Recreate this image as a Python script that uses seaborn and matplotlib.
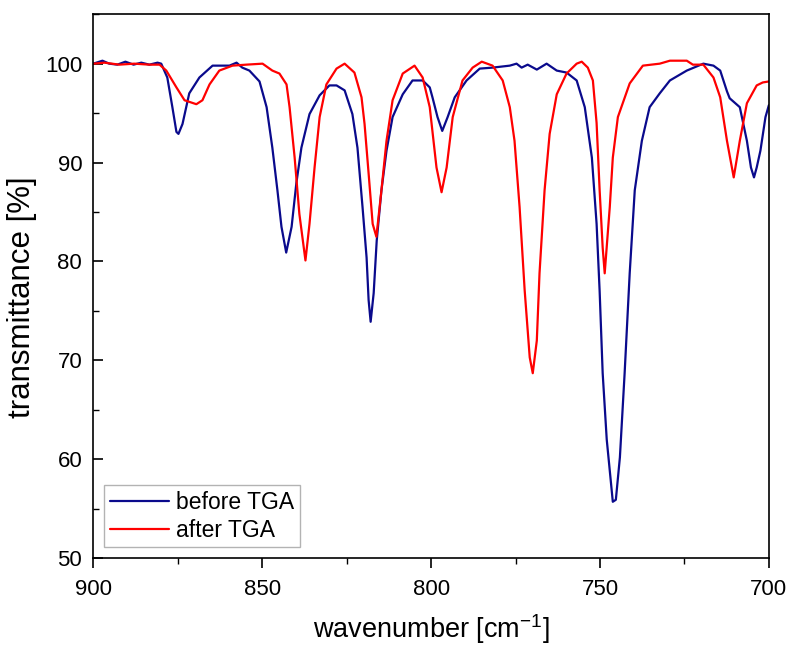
import matplotlib
matplotlib.use("Agg")
import matplotlib.pyplot as plt
from matplotlib.ticker import MultipleLocator
import numpy as np
import pandas as pd
import seaborn as sns

# before TGA
before_wn = [900.0, 898.2, 897.3, 895.3, 892.9, 890.5, 888.1, 885.8, 883.4, 881.0,
             879.9, 878.1, 876.6, 875.4, 874.8, 873.6, 871.6, 868.6, 864.7, 859.7,
             857.6, 855.9, 853.8, 850.8, 848.7, 847.0, 845.5, 844.3, 842.9, 841.3,
             839.9, 838.4, 836.0, 833.0, 830.1, 828.0, 825.6, 823.3, 821.8, 820.3,
             819.1, 818.5, 817.9, 817.0, 816.1, 814.7, 813.2, 811.4, 808.4, 805.5,
             802.5, 800.4, 799.6, 798.1, 796.7, 795.1, 793.0, 789.5, 785.6, 781.8,
             776.7, 774.7, 773.2, 771.4, 768.7, 765.8, 762.8, 759.9, 756.9, 754.5,
             752.4, 751.0, 750.1, 749.2, 748.0, 746.2, 745.3, 744.1, 742.7, 741.2,
             739.7, 737.6, 735.3, 732.3, 729.3, 724.3, 719.4, 716.4, 714.4, 712.4,
             711.6, 708.6, 706.5, 705.3, 704.4, 703.6, 702.5, 701.0, 700.0]
before_t = [100.0, 100.2, 100.3, 100.0, 99.9, 100.2, 99.9, 100.1, 99.9, 100.1,
            100.0, 98.6, 95.6, 93.1, 92.9, 93.9, 97.0, 98.6, 99.8, 99.8,
            100.1, 99.6, 99.3, 98.2, 95.6, 91.5, 87.2, 83.5, 80.9, 83.5,
            87.9, 91.5, 94.9, 96.8, 97.8, 97.8, 97.3, 94.9, 91.5, 85.5,
            80.4, 76.1, 73.9, 76.8, 82.1, 87.2, 91.2, 94.6, 96.9, 98.3,
            98.3, 97.6, 96.6, 94.6, 93.2, 94.6, 96.6, 98.3, 99.5, 99.6,
            99.8, 100.0, 99.6, 99.9, 99.4, 100.0, 99.3, 99.1, 98.3, 95.6,
            90.5, 83.8, 77.0, 68.7, 62.0, 55.7, 55.9, 60.2, 68.7, 78.8,
            87.2, 92.2, 95.6, 97.0, 98.3, 99.3, 100.0, 99.8, 99.3, 97.2,
            96.5, 95.6, 92.2, 89.5, 88.5, 89.5, 91.2, 94.6, 95.8]

# after TGA
after_wn = [900.0, 896.7, 892.3, 887.9, 883.4, 880.4, 878.4, 875.4, 873.0, 869.5,
            867.7, 865.6, 862.7, 858.8, 854.7, 849.9, 847.0, 844.9, 842.8, 841.9,
            840.4, 839.0, 837.2, 836.0, 834.5, 833.0, 831.0, 828.0, 825.6, 822.7,
            820.6, 819.7, 818.5, 817.3, 816.2, 814.7, 813.2, 811.4, 808.4, 804.9,
            802.5, 800.4, 798.4, 796.9, 795.4, 793.6, 790.7, 787.7, 785.0, 781.8,
            778.8, 776.7, 775.3, 773.8, 772.3, 770.8, 769.9, 768.7, 767.9, 766.4,
            764.9, 762.8, 759.9, 756.9, 755.4, 753.6, 752.1, 751.0, 750.1, 749.2,
            748.6, 747.1, 746.2, 744.7, 741.2, 737.3, 732.3, 729.3, 724.3, 722.5,
            719.4, 716.4, 714.4, 712.4, 710.4, 708.6, 706.5, 703.6, 701.8, 700.0]
after_t = [100.0, 100.1, 99.9, 100.0, 99.9, 99.9, 99.3, 97.6, 96.3, 95.9,
           96.3, 97.9, 99.3, 99.8, 99.9, 100.0, 99.3, 99.0, 97.9, 95.6,
           90.5, 84.8, 80.1, 83.8, 89.5, 94.6, 97.9, 99.5, 100.0, 99.1,
           96.6, 93.9, 88.9, 83.8, 82.5, 87.2, 92.2, 96.3, 99.0, 99.8,
           98.6, 95.6, 89.5, 87.0, 89.5, 94.6, 98.3, 99.6, 100.2, 99.8,
           98.3, 95.6, 92.2, 85.5, 77.1, 70.3, 68.7, 72.0, 78.8, 87.2,
           92.9, 96.9, 99.0, 100.0, 100.2, 99.6, 98.3, 94.0, 87.2, 81.4,
           78.8, 85.5, 90.5, 94.6, 98.0, 99.8, 100.0, 100.3, 100.3, 99.9,
           99.9, 98.6, 96.6, 92.2, 88.5, 92.2, 96.0, 97.8, 98.1, 98.2]

labels = ["before TGA", "after TGA"]
colors = {"before TGA": "#0a0a8c", "after TGA": "#ff0000"}

df = pd.concat([
    pd.DataFrame({"wavenumber": before_wn, "transmittance": before_t, "sample": labels[0]}),
    pd.DataFrame({"wavenumber": after_wn, "transmittance": after_t, "sample": labels[1]}),
], ignore_index=True)

sns.set_theme(style="ticks")
plt.rcParams["font.family"] = ["Liberation Sans", "DejaVu Sans"]
plt.rcParams["mathtext.default"] = "regular"
plt.rcParams["text.color"] = "black"

fig = plt.figure(figsize=(7.91, 6.46), dpi=100)
ax = fig.add_axes([0.118, 0.136, 0.854, 0.842])

sns.lineplot(data=df, x="wavenumber", y="transmittance", hue="sample",
             hue_order=labels, palette=colors, estimator=None, sort=False,
             linewidth=1.6, ax=ax)

ax.set_xlim(900, 700)
ax.set_ylim(50, 105)
ax.xaxis.set_major_locator(MultipleLocator(50))
ax.xaxis.set_minor_locator(MultipleLocator(25))
ax.yaxis.set_major_locator(MultipleLocator(10))
ax.yaxis.set_minor_locator(MultipleLocator(5))
# x ticks point out, y ticks point in (as in the original)
ax.tick_params(axis="x", which="major", direction="out", length=7, width=1.2, pad=8, labelsize=16, colors="black")
ax.tick_params(axis="x", which="minor", direction="out", length=4, width=1.0, colors="black")
ax.tick_params(axis="y", which="major", direction="in", length=7, width=1.2, pad=8, labelsize=16, colors="black")
ax.tick_params(axis="y", which="minor", direction="in", length=4, width=1.0, colors="black")
for sp in ax.spines.values():
    sp.set_visible(True)
    sp.set_linewidth(1.2)
    sp.set_color("black")

ax.set_xlabel("wavenumber [cm$^{-1}$]", fontsize=19.5, labelpad=9, color="black")
ax.set_ylabel("transmittance [%]", fontsize=22.5, color="black")
ax.yaxis.set_label_coords(-0.084, 0.48)

leg = ax.legend(loc="lower left", bbox_to_anchor=(0.016, 0.02), borderaxespad=0,
                fontsize=16.5, frameon=True, fancybox=False, edgecolor="#a0a0a0",
                handlelength=2.6, handletextpad=0.3, borderpad=0.25, labelspacing=0.2)
leg.get_frame().set_linewidth(1.0)
leg.set_title(None)
for t in leg.get_texts():
    t.set_color("black")

fig.savefig("out.png", dpi=100)
